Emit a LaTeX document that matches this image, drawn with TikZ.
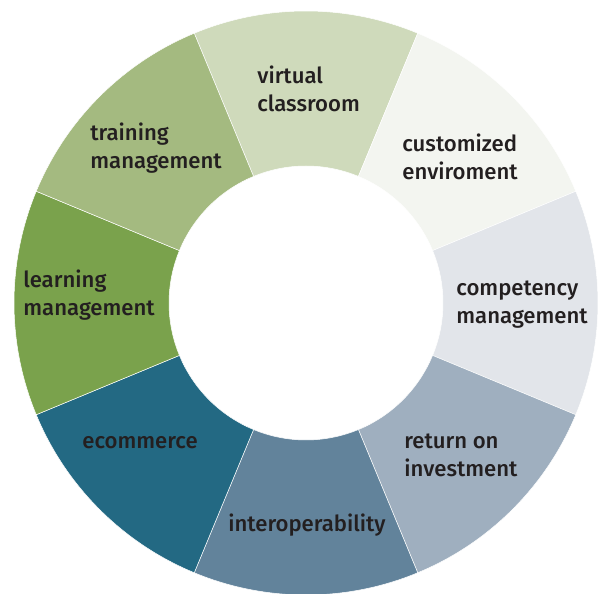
\documentclass[tikz,border=0pt]{standalone}
\usepackage{fontspec}
\setmainfont{Fira Sans}[UprightFont={* Medium}]
\usepackage{tikz}
\usepackage{xcolor}
\definecolor{virtualc}{HTML}{CFDABB}
\definecolor{customc}{HTML}{F3F5F0}
\definecolor{competc}{HTML}{E2E5EA}
\definecolor{returnc}{HTML}{9FAFBF}
\definecolor{interc}{HTML}{62839B}
\definecolor{ecomc}{HTML}{236983}
\definecolor{learnc}{HTML}{7AA24C}
\definecolor{trainc}{HTML}{A4BA80}
\definecolor{ink}{HTML}{231F20}
\tikzstyle{sector} = [draw=white, line width=.1mm]
\tikzstyle{tag} = [anchor=base west, align=left, inner sep=0pt, text=ink, font=\fontsize{12.6}{16.4}\selectfont]

\begin{document}
\begin{tikzpicture}[x=.02cm, y=.02cm]

	\useasboundingbox (0,0) rectangle (602,594);
	\coordinate (c) at (306,291);

	% ring, one sector per topic
	\foreach \start/\col in {67.5/virtualc, 22.5/customc, -22.5/competc, -67.5/returnc, -112.5/interc, -157.5/ecomc, 157.5/learnc, 112.5/trainc}{
		\path[sector, fill=\col] ([shift={(\start:292)}]c) arc[start angle=\start, end angle=\start+45, radius=292]
			-- ([shift={(\start+45:137)}]c) arc[start angle=\start+45, end angle=\start, radius=137] -- cycle;
	}

	% two-line tags sit on the baseline of their last line
	\node[tag] (virtual) at (257,482) {virtual\\classroom};
	\node[tag] (custom) at (402,414) {customized\\enviroment};
	\node[tag] (compet) at (456,270) {competency\\management};
	\node[tag] (return) at (404,117) {return on\\investment};
	\node[tag] (inter) at (228,62) {interoperability};
	\node[tag] (ecom) at (82,145) {ecommerce};
	\node[tag] (learn) at (23,278) {learning\\management};
	\node[tag] (train) at (90,425) {training\\management};

\end{tikzpicture}
\end{document}
